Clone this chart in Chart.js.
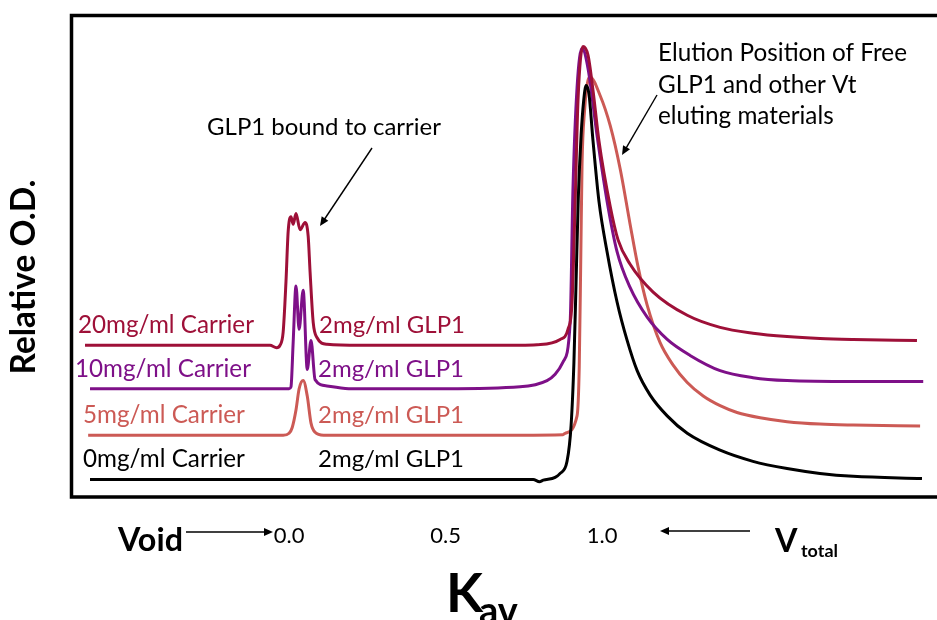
<!DOCTYPE html>
<html><head><meta charset="utf-8">
<script src="https://cdn.jsdelivr.net/npm/chart.js@4.4.0/dist/chart.umd.min.js"></script>
<style>html,body{margin:0;padding:0;background:#fff;overflow:hidden}canvas{display:block}</style>
</head><body>
<canvas id="c" width="937" height="620"></canvas>
<script>
// ---- data ----
const KAV_TICKS = [0.0, 0.5, 1.0];
const SERIES_NAMES = ['0mg/ml Carrier', '20mg/ml Carrier', '10mg/ml Carrier', '5mg/ml Carrier'];
const GLP1_LABEL = '2mg/ml GLP1';
const Y_TITLE = 'Relative O.D.';
const ANNOT_BOUND = 'GLP1 bound to carrier';
const ANNOT_FREE = ['Elution Position of Free', 'GLP1 and other Vt', 'eluting materials'];

const kav_0mg = [-0.636, 0.0, 0.5, 0.780, 0.800, 0.812, 0.850, 0.866, 0.888, 0.901, 0.910, 0.917, 0.924, 0.933, 0.941, 0.949, 0.958, 0.971, 0.990, 1.016, 1.048, 1.080, 1.112, 1.153, 1.208, 1.272, 1.377, 1.482, 1.591, 1.696, 1.802, 2.022];
const od_0mg  = [3.75, 3.75, 3.75, 3.75, 3.3, 3.6, 4.2, 5.0, 7.5, 15.0, 28.0, 45.0, 62.0, 75.0, 82.0, 85.2, 83.5, 73.75, 61.25, 50.8, 40.4, 32.5, 26.25, 21.25, 16.9, 13.3, 9.8, 7.5, 6.0, 5.0, 4.4, 3.96];

const kav_20mg = [-0.652, -0.3, -0.061, -0.040, -0.029, -0.019, -0.010, -0.003, 0.006, 0.013, 0.022, 0.035, 0.051, 0.061, 0.067, 0.077, 0.089, 0.121, 0.227, 0.5, 0.738, 0.792, 0.866, 0.891, 0.904, 0.914, 0.923, 0.939, 0.955, 0.971, 0.990, 1.026, 1.051, 1.089, 1.163, 1.272, 1.377, 1.482, 1.591, 1.696, 1.802, 2.006];
const od_20mg  = [31.5, 31.5, 31.5, 31.0, 31.5, 34.2, 44.6, 55.0, 58.1, 56.5, 58.75, 55.4, 56.9, 54.0, 46.7, 36.25, 33.1, 31.7, 31.5, 31.5, 31.5, 31.6, 32.7, 34.8, 40.4, 61.25, 82.1, 93.3, 91.5, 84.2, 73.75, 60.2, 53.3, 48.3, 42.5, 37.7, 35.2, 34.0, 33.3, 32.9, 32.7, 32.5];

const kav_10mg = [-0.636, -0.3, 0.0, 0.006, 0.013, 0.022, 0.032, 0.045, 0.058, 0.070, 0.083, 0.121, 0.2, 0.5, 0.738, 0.824, 0.850, 0.875, 0.898, 0.907, 0.920, 0.936, 0.955, 0.984, 1.016, 1.048, 1.089, 1.144, 1.208, 1.281, 1.377, 1.482, 1.591, 1.802, 2.026];
const od_10mg  = [22.5, 22.5, 22.5, 22.9, 32.1, 43.75, 34.8, 42.9, 26.5, 32.5, 24.4, 23.1, 22.5, 22.5, 22.9, 24.2, 25.5, 28.0, 36.25, 64.0, 84.8, 92.9, 88.75, 74.8, 61.25, 50.8, 43.5, 37.3, 32.7, 29.4, 26.25, 24.8, 24.2, 24.0, 24.0];

const kav_5mg = [-0.642, -0.3, -0.019, 0.0, 0.010, 0.022, 0.032, 0.045, 0.058, 0.070, 0.083, 0.11, 0.5, 0.738, 0.875, 0.882, 0.920, 0.927, 0.932, 0.936, 0.944, 0.955, 0.962, 0.994, 1.026, 1.058, 1.089, 1.115, 1.144, 1.185, 1.227, 1.272, 1.323, 1.377, 1.431, 1.505, 1.591, 1.696, 1.802, 2.016];
const od_5mg  = [12.9, 12.9, 12.9, 13.3, 14.5, 18.1, 22.5, 24.2, 21.0, 15.4, 13.5, 12.9, 12.9, 12.9, 13.0, 13.3, 16.9, 27.0, 50.0, 69.0, 80.0, 86.3, 86.9, 83.1, 76.9, 67.9, 56.7, 47.7, 39.8, 32.1, 27.4, 23.8, 21.0, 19.0, 17.6, 16.5, 15.7, 15.2, 15.0, 14.8];

// ---- styles ----
const COLORS = ['#000000', '#9E1038', '#7E1088', '#CC5A55'];
const LEFT_LABEL_X = [83, 78, 75, 83];
const RIGHT_LABEL_X = [318, 319, 318, 318];
const FONT = 'Lato, "Open Sans", sans-serif';

const seriesKav = [kav_0mg, kav_20mg, kav_10mg, kav_5mg];
const seriesOd = [od_0mg, od_20mg, od_10mg, od_5mg];

function fitFont(ctx, text, width, weight) {
  ctx.font = weight + ' 100px ' + FONT;
  const w = ctx.measureText(text).width;
  const size = 100 * width / w;
  return weight + ' ' + size.toFixed(2) + 'px ' + FONT;
}
function arrow(ctx, x1, y1, x2, y2) {
  const a = Math.atan2(y2 - y1, x2 - x1), L = 9, W = 4;
  ctx.save();
  ctx.strokeStyle = '#000'; ctx.fillStyle = '#000'; ctx.lineWidth = 1.4;
  ctx.beginPath(); ctx.moveTo(x1, y1);
  ctx.lineTo(x2 - Math.cos(a) * L * 0.8, y2 - Math.sin(a) * L * 0.8); ctx.stroke();
  ctx.beginPath(); ctx.moveTo(x2, y2);
  ctx.lineTo(x2 - Math.cos(a) * L - Math.sin(a) * W, y2 - Math.sin(a) * L + Math.cos(a) * W);
  ctx.lineTo(x2 - Math.cos(a) * L + Math.sin(a) * W, y2 - Math.sin(a) * L - Math.cos(a) * W);
  ctx.closePath(); ctx.fill();
  ctx.restore();
}

const decor = {
  id: 'decor',
  afterDatasetsDraw(chart) {
    const ctx = chart.ctx, a = chart.chartArea, ys = chart.scales.y;
    ctx.save();
    // frame (top, left, bottom)
    ctx.strokeStyle = '#000'; ctx.lineWidth = 3.5; ctx.lineCap = 'butt';
    ctx.beginPath();
    ctx.moveTo(a.right, a.top + 1.5); ctx.lineTo(a.left + 1.5, a.top + 1.5);
    ctx.lineTo(a.left + 1.5, a.bottom - 0.5); ctx.lineTo(a.right, a.bottom - 0.5);
    ctx.stroke();

    // series labels
    const leftFont = fitFont(ctx, SERIES_NAMES[0], 162, 'normal');
    const rightFont = fitFont(ctx, GLP1_LABEL, 146, 'normal');
    ctx.textBaseline = 'alphabetic'; ctx.textAlign = 'left';
    chart.data.datasets.forEach((ds, i) => {
      const by = ys.getPixelForValue(ds.data[0].y) - 12;
      ctx.fillStyle = COLORS[i];
      ctx.font = leftFont; ctx.fillText(ds.label, LEFT_LABEL_X[i], by);
      ctx.font = rightFont; ctx.fillText(GLP1_LABEL, RIGHT_LABEL_X[i], by);
    });

    // annotations
    ctx.fillStyle = '#000';
    ctx.font = fitFont(ctx, ANNOT_BOUND, 234, 'normal');
    ctx.textAlign = 'center';
    ctx.fillText(ANNOT_BOUND, 324, 135);
    arrow(ctx, 372, 148, 320, 226);
    ctx.textAlign = 'left';
    ctx.font = fitFont(ctx, ANNOT_FREE[0], 249, 'normal');
    ctx.fillText(ANNOT_FREE[0], 658, 61);
    ctx.fillText(ANNOT_FREE[1], 658, 93);
    ctx.fillText(ANNOT_FREE[2], 658, 124);
    arrow(ctx, 657, 95, 622, 155);

    // y title
    ctx.save();
    ctx.translate(24, 277); ctx.rotate(-Math.PI / 2);
    ctx.font = fitFont(ctx, Y_TITLE, 195, 'bold');
    ctx.textAlign = 'center'; ctx.textBaseline = 'middle';
    ctx.fillText(Y_TITLE, 0, 0);
    ctx.restore();

    // x axis extras
    ctx.textAlign = 'left'; ctx.textBaseline = 'alphabetic';
    const voidFont = fitFont(ctx, 'Void', 65, 'bold');
    ctx.font = voidFont; ctx.fillText('Void', 118, 551);
    arrow(ctx, 186, 532, 273, 532);
    ctx.font = voidFont; ctx.fillText('V', 775, 552);
    ctx.font = fitFont(ctx, 'total', 37, 'bold'); ctx.fillText('total', 801, 557);
    arrow(ctx, 750, 531, 660, 531);
    ctx.font = 'bold 54px ' + FONT; ctx.fillText('K', 446, 612);
    ctx.font = 'bold 38px ' + FONT; ctx.fillText('av', 479, 624);
    ctx.restore();
  }
};

const datasets = SERIES_NAMES.map((name, i) => ({
  label: name,
  data: seriesKav[i].map((k, j) => ({ x: k, y: seriesOd[i][j] })),
  borderColor: COLORS[i],
  borderWidth: 3,
  pointRadius: 0,
  fill: false,
  cubicInterpolationMode: 'monotone'
}));

new Chart(document.getElementById('c'), {
  type: 'line',
  data: { datasets },
  options: {
    responsive: false,
    animation: false,
    layout: { padding: { left: 70, top: 14, right: 0, bottom: 46 } },
    plugins: { legend: { display: false }, tooltip: { enabled: false } },
    scales: {
      x: {
        type: 'linear', min: -0.70, max: 2.07,
        grid: { display: false, drawTicks: false },
        border: { display: false },
        afterBuildTicks: sc => { sc.ticks = KAV_TICKS.map(v => ({ value: v })); },
        ticks: { padding: 25, autoSkip: false, maxRotation: 0, color: '#000',
                 font: { family: FONT, size: 22 }, callback: v => Number(v).toFixed(1) }
      },
      y: { display: false, min: 0, max: 100 }
    }
  },
  plugins: [decor]
});
</script>
</body></html>
